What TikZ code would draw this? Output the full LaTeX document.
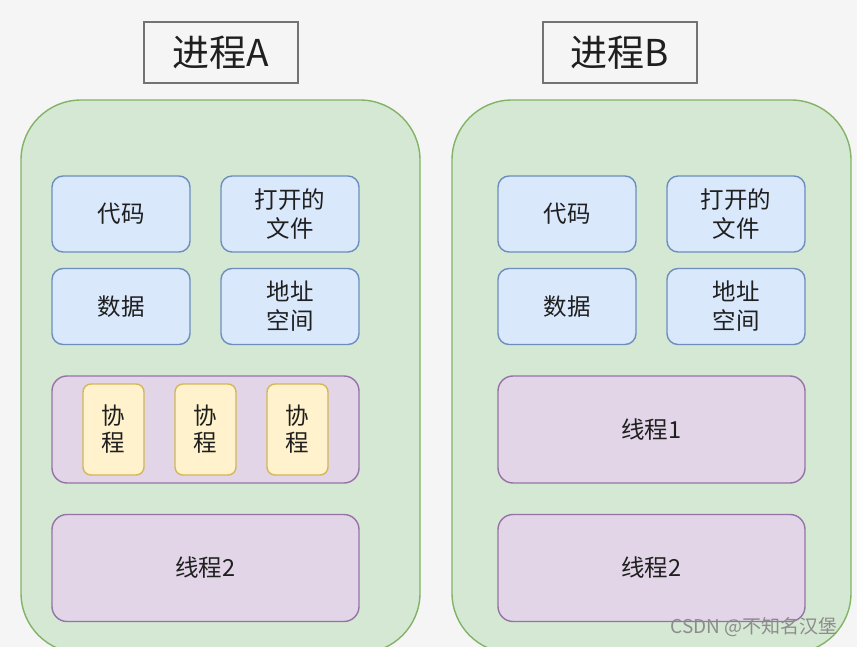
\documentclass[tikz,border=0pt]{standalone}
\usepackage{fontspec}
\setmainfont{Noto Sans CJK SC}
\usetikzlibrary{positioning}
\definecolor{bgc}{HTML}{F5F5F5}
\definecolor{procfill}{HTML}{D5E8D4}
\definecolor{procline}{HTML}{82B366}
\definecolor{resfill}{HTML}{DAE8FC}
\definecolor{resline}{HTML}{6C8EBF}
\definecolor{thrfill}{HTML}{E1D5E7}
\definecolor{thrline}{HTML}{9673A6}
\definecolor{cofill}{HTML}{FFF2CC}
\definecolor{coline}{HTML}{D6B656}

\begin{document}
\begin{tikzpicture}[x=1pt,y=-1pt,
  box/.style={draw, inner sep=0pt, align=center, line width=1.4pt,
    text=black!88, font=\fontsize{23.5}{29}\selectfont},
  proc/.style={box, fill=procfill, draw=procline, rounded corners=60pt,
    minimum width=399pt, minimum height=553pt},
  title/.style={box, fill=bgc, draw=black!55, line width=1.2pt,
    minimum width=154pt, minimum height=61pt, font=\fontsize{37}{37}\selectfont},
  res/.style={box, fill=resfill, draw=resline, rounded corners=11pt,
    minimum width=138pt, minimum height=76pt},
  thr/.style={box, fill=thrfill, draw=thrline, rounded corners=15pt,
    minimum width=307pt, minimum height=107pt},
  co/.style={box, fill=cofill, draw=coline, rounded corners=8pt,
    minimum width=61pt, minimum height=91pt, font=\fontsize{23.5}{27}\selectfont}
]
 \fill[bgc] (0,0) rectangle (857,647);
 \useasboundingbox (0,0) rectangle (857,647);

 % process A
 \node[title] (ta) at (221,52.5) {进程A};
 \node[proc] (pa) at (220.5,376.5) {};
 \node[res] (a-code) at (121,214) {代码};
 \node[res] (a-file) at (290,214) {打开的\\文件};
 \node[res] (a-data) at (121,306.5) {数据};
 \node[res] (a-addr) at (290,306.5) {地址\\空间};
 \node[thr] (a-t1) at (205.5,429.5) {};
 \foreach \i/\x in {1/113.5,2/205.5,3/297.5}
   \node[co] (a-co\i) at (\x,429.5) {协\\程};
 \node[thr] (a-t2) at (205.5,568) {线程2};

 % process B
 \node[title] (tb) at (620,52.5) {进程B};
 \node[proc] (pb) at (651.5,376.5) {};
 \node[res] (b-code) at (567,214) {代码};
 \node[res] (b-file) at (736,214) {打开的\\文件};
 \node[res] (b-data) at (567,306.5) {数据};
 \node[res] (b-addr) at (736,306.5) {地址\\空间};
 \node[thr] (b-t1) at (651.5,429.5) {线程1};
 \node[thr] (b-t2) at (651.5,568) {线程2};

 \node[anchor=east, text=black!45, font=\fontsize{19}{19}\selectfont] (wm) at (841,627) {CSDN @不知名汉堡};
\end{tikzpicture}
\end{document}
